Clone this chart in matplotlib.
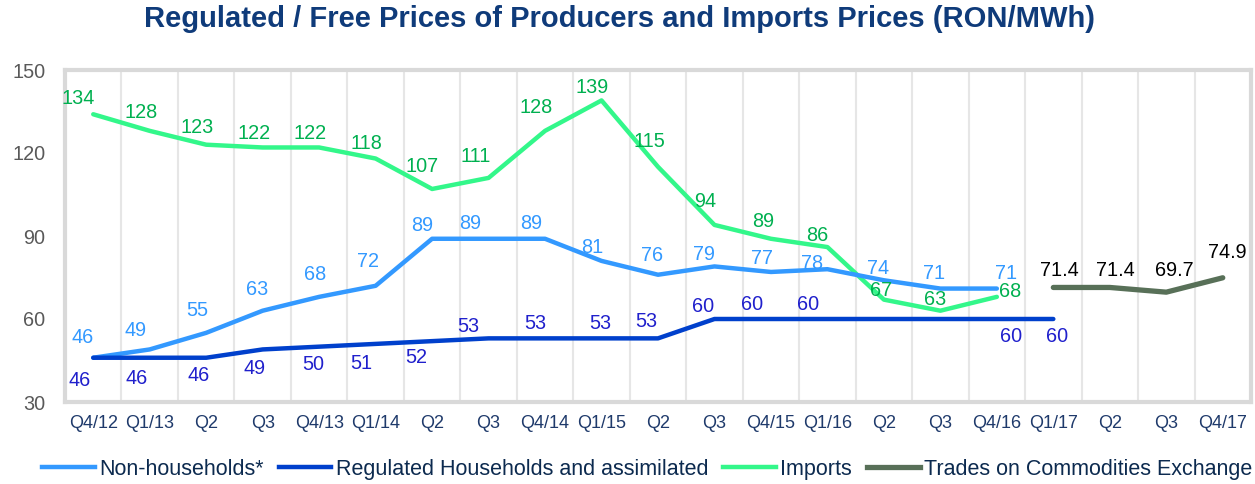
import matplotlib
matplotlib.use("Agg")
import numpy as np
import matplotlib.pyplot as plt
from matplotlib.lines import Line2D

plt.rcParams["font.family"] = ["Liberation Sans", "DejaVu Sans"]

# Categories on the x axis
quarters = ["Q4/12", "Q1/13", "Q2", "Q3", "Q4/13", "Q1/14", "Q2", "Q3", "Q4/14",
            "Q1/15", "Q2", "Q3", "Q4/15", "Q1/16", "Q2", "Q3", "Q4/16", "Q1/17",
            "Q2", "Q3", "Q4/17"]

# Series values (RON/MWh)
non_households = [46, 49, 55, 63, 68, 72, 89, 89, 89, 81, 76, 79, 77, 78, 74, 71, 71]
regulated = [46, 46, 46, 49, 50, 51, 52, 53, 53, 53, 53, 60, 60, 60, 60, 60, 60, 60]
imports = [134, 128, 123, 122, 122, 118, 107, 111, 128, 139, 115, 94, 89, 86, 67, 63, 68]
trades = [71.4, 71.4, 69.7, 74.9]
trades_start = 17

# label texts (a few regulated labels are not shown on the original)
regulated_labels = ["46", "46", "46", "49", "50", "51", "52", "53", "53", "53", "53",
                    "60", "60", "60", "", "", "60", "60"]

# label offsets in pixels (dx, dy)
nh_off = [(-11, 20), (-14, 19), (-9, 22), (-6, 21), (-4, 22), (-8, 24), (-10, 13),
          (-18, 15), (-14, 15), (-9, 13), (-6, 19), (-10, 12), (-9, 13), (-15, 6),
          (-6, 12), (-6, 15), (9, 15)]
reg_off = [(-14, -23), (-13, -21), (-8, -18), (-8, -19), (-6, -18), (-14, -20),
           (-16, -16), (-20, 12), (-10, 15), (-1, 15), (-12, 17), (-11, 13),
           (-19, 15), (-19, 15), (0, 0), (0, 0), (14, -17), (4, -17)]
imp_off = [(-15, 16), (-9, 18), (-9, 17), (-9, 14), (-9, 14), (-9, 15), (-10, 22),
           (-13, 21), (-9, 23), (-9, 13), (-9, 25), (-9, 23), (-8, 17), (-10, 12),
           (-3, 9), (-5, 11), (13, 5)]
tr_off = [(6, 17), (6, 17), (8, 22), (5, 25)]

c_nh = "#3399ff"
c_reg = "#0040cc"
c_imp = "#33f78a"
c_tr = "#587058"

fig = plt.figure(figsize=(12.55, 4.84), dpi=100)
ax = fig.add_axes([65 / 1255, 82 / 484, 1186 / 1255, 332 / 484])

x = np.arange(len(quarters))

ax.plot(x[:len(imports)], imports, color=c_imp, lw=3.2, solid_capstyle="round", zorder=3)
ax.plot(x[:len(non_households)], non_households, color=c_nh, lw=3.2, solid_capstyle="round", zorder=4)
ax.plot(x[:len(regulated)], regulated, color=c_reg, lw=3.2, solid_capstyle="round", zorder=4)
xt = x[trades_start:trades_start + len(trades)]
ax.plot(xt, trades, color=c_tr, lw=3.8, solid_capstyle="round", zorder=4)

fs = 14.3


def put_labels(xs, ys, texts, offs, color):
    for xi, yi, t, (dx, dy) in zip(xs, ys, texts, offs):
        if not t:
            continue
        ax.annotate(t, (xi, yi), xytext=(dx, dy), textcoords="offset pixels",
                    ha="center", va="center", fontsize=fs, color=color, zorder=6)


put_labels(x, non_households, [str(v) for v in non_households], nh_off, c_nh)
put_labels(x, regulated, regulated_labels, reg_off, "#2020cc")
put_labels(x, imports, [str(v) for v in imports], imp_off, "#00b050")
put_labels(xt, trades, [f"{v:.1f}" for v in trades], tr_off, "black")

ax.set_xlim(-0.5, len(quarters) - 0.5)
ax.set_ylim(30, 150)
ax.set_yticks([30, 60, 90, 120, 150])
ax.set_xticks(x)
ax.set_xticklabels(quarters, fontsize=13, color="#1f3a6b")
ax.tick_params(axis="y", labelsize=14.3, labelcolor="#595959", length=0, pad=14)
ax.tick_params(axis="x", length=0, pad=9)

# vertical gridlines between categories
for b in np.arange(0.5, len(quarters) - 0.5, 1):
    ax.axvline(b, color="#e6e6e6", lw=1.5, zorder=1)

for s in ax.spines.values():
    s.set_color("#d9d9d9")
    s.set_linewidth(3)

fig.text(0.494, 0.96, "Regulated / Free Prices of Producers and Imports Prices (RON/MWh)",
         ha="center", va="center", fontsize=21, fontweight="bold", color="#0f3b7a")

handles = [Line2D([], [], color=c_nh, lw=3.2),
           Line2D([], [], color=c_reg, lw=3.2),
           Line2D([], [], color=c_imp, lw=3.2),
           Line2D([], [], color=c_tr, lw=3.8)]
names = ["Non-households*", "Regulated Households and assimilated", "Imports",
         "Trades on Commodities Exchange"]
fig.legend(handles, names, loc="center left", bbox_to_anchor=(0.018, 0.03), ncol=4,
           frameon=False, fontsize=15.5, handlelength=2.45, handletextpad=0.2,
           columnspacing=0.7, labelcolor="#0c2a4f")

fig.savefig("out.png", dpi=100)
